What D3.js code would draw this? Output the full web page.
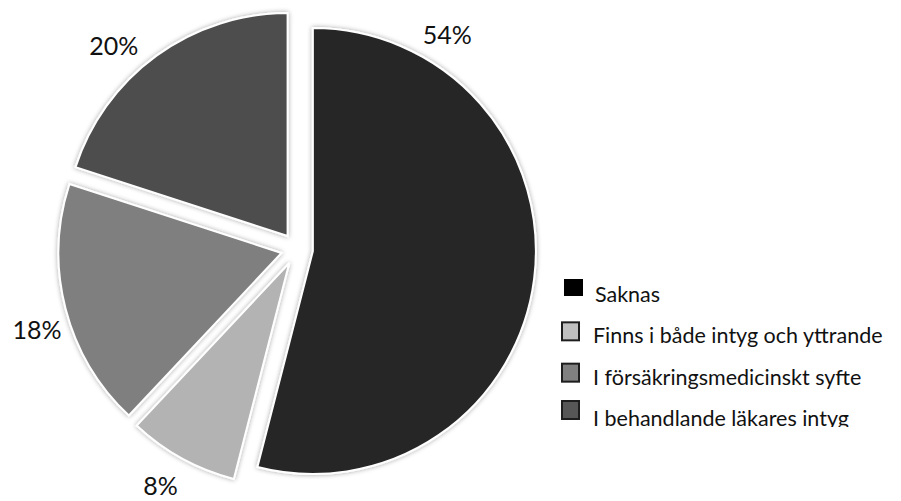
<!DOCTYPE html>
<html>
<head>
<meta charset="utf-8">
<script src="https://cdn.jsdelivr.net/npm/d3@7"></script>
<style>
  html, body { margin: 0; padding: 0; background: #fff; }
  svg { display: block; }
  text { font-family: Lato, "Open Sans", sans-serif; fill: #111; }
</style>
</head>
<body>
<svg id="chart" width="901" height="501"></svg>
<script>
// Share of cases by where the information was found
const categories = ["Saknas", "Finns i både intyg och yttrande", "I försäkringsmedicinskt syfte", "I behandlande läkares intyg"];
const values = [54, 8, 18, 20];
const valueLabels = ["54%", "8%", "18%", "20%"];

// Appearance
const sliceColors = ["#262626", "#b3b3b3", "#7f7f7f", "#4e4e4e"];
const legendColors = ["#000000", "#c0c0c0", "#808080", "#575757"];
const labelAngleDeg = [35, 210, 253, 318];   // where each percentage label sits around the pie
const labelRadius = [262, 273, 272, 274];

const cx = 297, cy = 249, radius = 223, explode = 16;

const svg = d3.select("#chart");
const defs = svg.append("defs");

// soft grey halo around each slice
const glow = defs.append("filter").attr("id", "glow")
  .attr("x", "-10%").attr("y", "-10%").attr("width", "120%").attr("height", "120%");
glow.append("feGaussianBlur").attr("in", "SourceAlpha").attr("stdDeviation", 2.5).attr("result", "b");
glow.append("feComponentTransfer").attr("in", "b").attr("result", "s")
  .append("feFuncA").attr("type", "linear").attr("slope", 0.35);
const merge = glow.append("feMerge");
merge.append("feMergeNode").attr("in", "s");
merge.append("feMergeNode").attr("in", "SourceGraphic");

const pie = d3.pie().sort(null).value(d => d);
const arcs = pie(values);
const arc = d3.arc().innerRadius(0).outerRadius(radius);

const g = svg.append("g").attr("transform", `translate(${cx},${cy})`);

g.selectAll("path.slice")
  .data(arcs)
  .join("path")
  .attr("class", "slice")
  .attr("d", arc)
  .attr("fill", (d, i) => sliceColors[i])
  .attr("stroke", "#fff")
  .attr("stroke-width", 2)
  .attr("filter", "url(#glow)")
  .attr("transform", d => {
    const a = (d.startAngle + d.endAngle) / 2;
    return `translate(${explode * Math.sin(a)},${-explode * Math.cos(a)})`;
  });

// Percentage labels outside the pie
g.selectAll("text.pct")
  .data(arcs)
  .join("text")
  .attr("class", "pct")
  .attr("x", (d, i) => labelRadius[i] * Math.sin(labelAngleDeg[i] * Math.PI / 180))
  .attr("y", (d, i) => -labelRadius[i] * Math.cos(labelAngleDeg[i] * Math.PI / 180))
  .attr("text-anchor", "middle")
  .attr("dominant-baseline", "central")
  .attr("font-size", 25)
  .text((d, i) => valueLabels[i]);

// Legend, cut off at the lower edge of its box
defs.append("clipPath").attr("id", "legendClip")
  .append("rect").attr("x", 540).attr("y", 260).attr("width", 361).attr("height", 167);

const legend = svg.append("g").attr("clip-path", "url(#legendClip)");
const legendY = d3.scalePoint().domain(d3.range(categories.length)).range([302, 426]);
const swatch = [
  { dx: 565, dy: -22, w: 17, h: 15 },
  { dx: 562, dy: -21, w: 17, h: 18 },
  { dx: 562, dy: -21, w: 17, h: 18 },
  { dx: 562, dy: -25, w: 17, h: 18 }
];

const items = legend.selectAll("g.item")
  .data(categories)
  .join("g")
  .attr("class", "item");

items.append("rect")
  .attr("x", (d, i) => swatch[i].dx)
  .attr("y", (d, i) => legendY(i) + swatch[i].dy)
  .attr("width", (d, i) => swatch[i].w)
  .attr("height", (d, i) => swatch[i].h)
  .attr("fill", (d, i) => legendColors[i])
  .attr("stroke", (d, i) => i === 0 ? "#000" : "#1e1e1e")
  .attr("stroke-width", 2);

items.append("text")
  .attr("x", (d, i) => i === 0 ? 595 : 593)
  .attr("y", (d, i) => legendY(i))
  .attr("font-size", 21.5)
  .text(d => d);
</script>
</body>
</html>
